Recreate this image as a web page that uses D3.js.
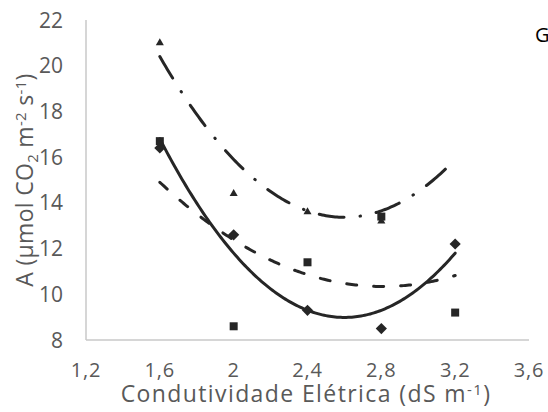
<!DOCTYPE html>
<html><head><meta charset="utf-8">
<script src="https://cdn.jsdelivr.net/npm/d3@7"></script>
<style>body{margin:0;background:#fff}svg{display:block}</style>
</head><body><svg id="c" width="548" height="412"></svg>
<script>
// Data
const xValues = [1.6, 2.0, 2.4, 2.8, 3.2];
const diamondValues = [16.4, 12.6, 9.3, 8.5, 12.2];
const squareValues = [16.7, 8.6, 11.4, 13.4, 9.2];
const triangleValues = [21.0, 14.4, 13.6, 13.2, null];
// Polynomial (order 2) trendline coefficients: y = a*x^2 + b*x + c
const diamondTrend = [7.8125, -40.625, 61.8];
const squareTrend = [3.125, -17.55, 34.98];
const triangleTrend = [7.03125, -36.5625, 60.9];
const xTicks = [1.2, 1.6, 2.0, 2.4, 2.8, 3.2, 3.6];
const yTicks = [8, 10, 12, 14, 16, 18, 20, 22];

const svg = d3.select('#c');
const font = 'Open Sans';
const textCol = '#595959';
const markCol = '#262626';
const x = d3.scaleLinear().domain([1.2, 3.6]).range([86, 529]);
const y = d3.scaleLinear().domain([8, 22]).range([340, 20]);

// axes lines
svg.append('line').attr('x1', x(1.2)).attr('x2', x(1.2)).attr('y1', y(22)).attr('y2', y(8))
  .attr('stroke', '#c8c8c8').attr('stroke-width', 1.5);
svg.append('line').attr('x1', x(1.2)).attr('x2', x(3.6)).attr('y1', y(8)).attr('y2', y(8))
  .attr('stroke', '#c8c8c8').attr('stroke-width', 1.5);

const fmt = v => String(v).replace('.', ',');
svg.append('g').selectAll('text').data(yTicks).join('text')
  .attr('x', 63).attr('y', d => y(d)).attr('dy', '0.36em').attr('text-anchor', 'end')
  .attr('font-family', font).attr('font-size', 21).attr('fill', textCol).text(d => d);
svg.append('g').selectAll('text').data(xTicks).join('text')
  .attr('x', d => x(d)).attr('y', 377).attr('text-anchor', 'middle')
  .attr('font-family', font).attr('font-size', 20).attr('letter-spacing', 0.8)
  .attr('fill', textCol).text(d => fmt(d));

// x title
const xt = svg.append('text').attr('x', 306).attr('y', 402).attr('text-anchor', 'middle')
  .attr('font-family', font).attr('font-size', 23).attr('letter-spacing', 1.4).attr('fill', textCol);
xt.append('tspan').text('Condutividade Elétrica (dS m');
xt.append('tspan').attr('font-size', 15).attr('baseline-shift', '0.5em').text('-1');
xt.append('tspan').text(')');

// y title
const yt = svg.append('text').attr('transform', 'translate(33,180) rotate(-90)').attr('text-anchor', 'middle')
  .attr('font-family', font).attr('font-size', 23).attr('letter-spacing', 0.3).attr('fill', textCol);
yt.append('tspan').text('A (µmol CO');
yt.append('tspan').attr('font-size', 15).attr('baseline-shift', '-0.3em').text('2');
yt.append('tspan').text(' m');
yt.append('tspan').attr('font-size', 15).attr('baseline-shift', '0.5em').text('-2');
yt.append('tspan').text(' s');
yt.append('tspan').attr('font-size', 15).attr('baseline-shift', '0.5em').text('-1');
yt.append('tspan').text(')');

svg.append('text').attr('x', 535).attr('y', 42).attr('font-family', font).attr('font-size', 20)
  .attr('fill', '#000').text('G');

// trendlines
const xs = d3.range(0, 161).map(i => 1.6 + i * 0.01);
const line = d3.line().x(d => x(d[0])).y(d => y(d[1]));
function trend(coef, dash) {
  const pts = xs.map(v => [v, coef[0] * v * v + coef[1] * v + coef[2]]);
  svg.append('path').attr('d', line(pts)).attr('fill', 'none').attr('stroke', markCol)
    .attr('stroke-width', 3).attr('stroke-linecap', 'round')
    .attr('stroke-dasharray', dash);
}
trend(triangleTrend, '25 16 0.5 16');
trend(squareTrend, '10 17');
trend(diamondTrend, null);

// markers
const pts = (vals) => xValues.map((v, i) => [v, vals[i]]).filter(d => d[1] != null);
svg.append('g').selectAll('path').data(pts(diamondValues)).join('path')
  .attr('d', d3.symbol(d3.symbolDiamond2 || d3.symbolSquare2, 80)())
  .attr('transform', d => `translate(${x(d[0])},${y(d[1])}) rotate(${d3.symbolDiamond2 ? 0 : 45})`)
  .attr('fill', markCol);
svg.append('g').selectAll('rect').data(pts(squareValues)).join('rect')
  .attr('x', d => x(d[0]) - 4).attr('y', d => y(d[1]) - 4).attr('width', 8).attr('height', 8)
  .attr('fill', markCol);
svg.append('g').selectAll('path').data(pts(triangleValues)).join('path')
  .attr('d', d3.symbol(d3.symbolTriangle, 28)())
  .attr('transform', d => `translate(${x(d[0])},${y(d[1])})`)
  .attr('fill', markCol);
</script></body></html>
